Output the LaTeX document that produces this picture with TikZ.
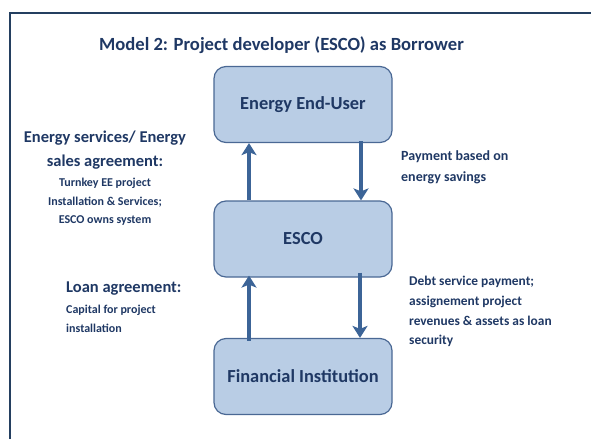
\documentclass[tikz,border=0pt]{standalone}
\usepackage{fontspec}
\setmainfont{Carlito}
\usetikzlibrary{arrows.meta}
\definecolor{navy}{HTML}{1F3864}
\definecolor{boxfill}{HTML}{B9CDE5}
\definecolor{boxline}{HTML}{4A6894}
\definecolor{arrowc}{HTML}{3C6497}
\definecolor{framec}{HTML}{243F60}
\tikzset{
  party/.style={draw=boxline, line width=1.2pt, fill=boxfill, rounded corners=12pt,
    minimum width=178pt, minimum height=76pt, inner sep=0pt,
    font=\bfseries\fontsize{18.4}{22}\selectfont, text=navy},
  flow/.style={draw=arrowc, line width=4pt, -{Stealth[length=12pt,width=15pt,inset=3pt]}},
  bigtxt/.style={font=\bfseries\fontsize{16.5}{24}\selectfont, text=navy, inner sep=0pt},
  smalltxt/.style={font=\bfseries\fontsize{12}{18.5}\selectfont, text=navy, inner sep=0pt},
  paytxt/.style={font=\bfseries\fontsize{14}{21}\selectfont, text=navy, inner sep=0pt},
  debttxt/.style={font=\bfseries\fontsize{13.4}{19.7}\selectfont, text=navy, inner sep=0pt},
}
\begin{document}
\begin{tikzpicture}[x=1pt,y=-1pt]
\useasboundingbox (0,0) rectangle (591,439);
% frame
\draw[framec, line width=2pt] (9.5,439) -- (9.5,12.5) -- (591,12.5);
% title
\node[font=\bfseries\fontsize{18.6}{22}\selectfont, text=navy, inner sep=0pt] (title) at (281.5,45) {Model 2: Project developer (ESCO) as Borrower};
% parties
\node[party] (user) at (303,104.5) {Energy End-User};
\node[party] (esco) at (303,239) {ESCO};
\node[party] (fi) at (303,376.5) {Financial Institution};
% arrows
\draw[flow] ([xshift=-54pt]esco.north) -- ([xshift=-54pt]user.south);
\draw[flow] ([xshift=58pt,yshift=2pt]user.south) -- ([xshift=58pt]esco.north);
\draw[flow] ([xshift=-54pt,yshift=-3pt]fi.north) -- ([xshift=-54pt,yshift=2pt]esco.south);
\draw[flow] ([xshift=57pt,yshift=5pt]esco.south) -- ([xshift=57pt]fi.north);
% left labels
\node[bigtxt, align=center] (servlbl) at (105,150) {Energy services/ Energy\\sales agreement:};
\node[smalltxt, align=center] (servsub) at (105,202) {Turnkey EE project\\Installation \& Services;\\ESCO owns system};
\node[bigtxt, anchor=west] (loanlbl) at (66,289) {Loan agreement:};
\node[smalltxt, align=left, anchor=west] (loansub) at (66,319) {Capital for project\\installation};
% right labels
\node[paytxt, align=left, anchor=west] (paylbl) at (401,167.5) {Payment based on\\energy savings};
\node[debttxt, align=left, anchor=west] (debtlbl) at (409,311.5) {Debt service payment;\\assignement project\\revenues \& assets as loan\\security};
\end{tikzpicture}
\end{document}
